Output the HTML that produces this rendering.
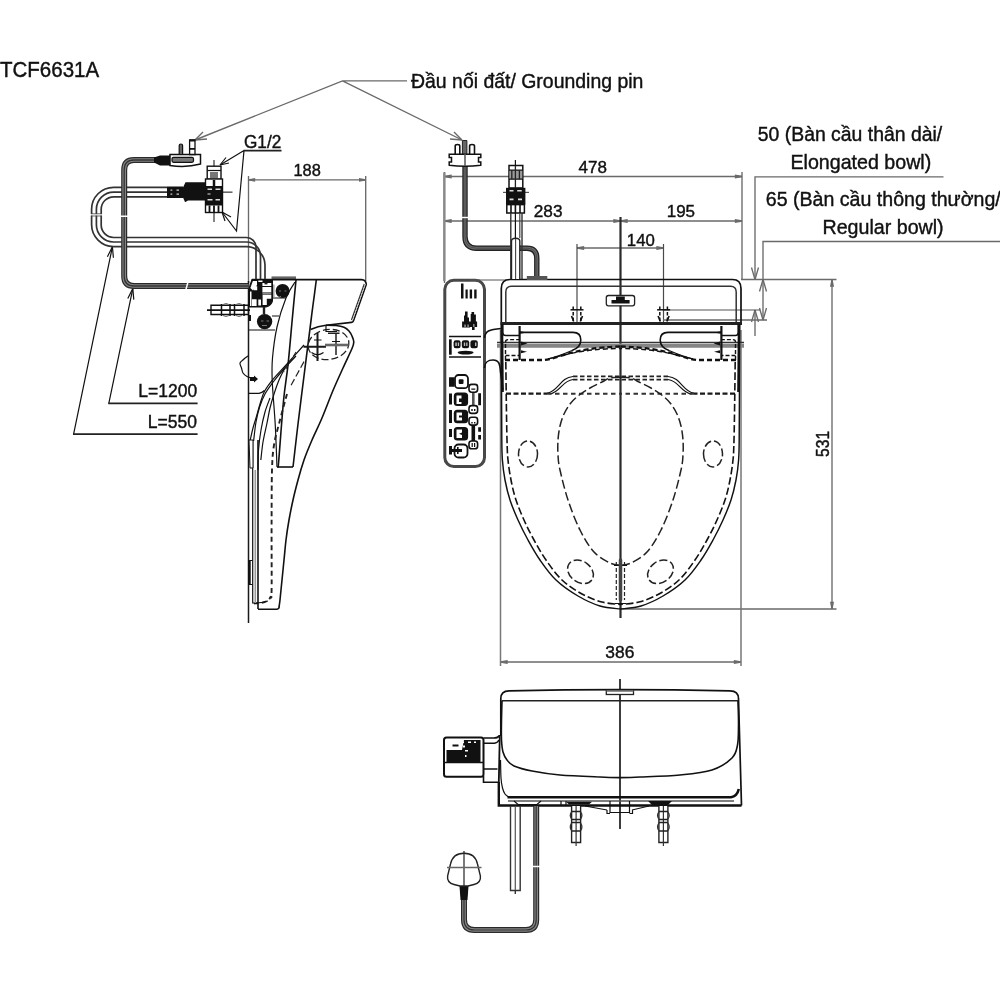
<!DOCTYPE html>
<html lang="vi">
<head>
<meta charset="utf-8">
<title>TCF6631A</title>
<style>
html,body{margin:0;padding:0;background:#fff;}
body{width:1000px;height:1000px;overflow:hidden;}
svg{display:block;filter:blur(0.4px);}
text{font-family:"Liberation Sans",sans-serif;fill:#111;}
.d{stroke:#6a6a6a;stroke-width:1.35;fill:none;}
.k{stroke:#111;stroke-width:1.2;fill:none;}
.k2{stroke:#111;stroke-width:1.6;fill:none;}
.k3{stroke:#111;stroke-width:2;fill:none;}
.g{stroke:#555;stroke-width:1;fill:none;}
.h{stroke:#222;stroke-width:1;fill:none;stroke-dasharray:4 2.5;}
.f{fill:#111;stroke:none;}
.w{fill:#fff;stroke:#111;stroke-width:1;}
</style>
</head>
<body>
<svg width="1000" height="1000" viewBox="0 0 1000 1000">
<rect x="0" y="0" width="1000" height="1000" fill="#fff"/>
<g id="dims" class="d">
<!-- 188 -->
<path d="M248.5 176V283M365.7 176V281M248.5 179.9H365.7"/>
<path d="M248.5 179.9l6 -1.1v2.2zM365.7 179.9l-6 -1.1v2.2z" fill="#6e6e6e"/>
<!-- 478 / 283 / 195 / 140 -->
<path d="M444.5 172V283M742 172V279M444.5 176.5H742M444.5 221H742M577 248H663.5"/>
<path d="M444.5 176.5l6.5 -1.2v2.4zM742 176.5l-6.5 -1.2v2.4zM444.5 221l6.5 -1.2v2.4zM742 221l-6.5 -1.2v2.4zM620.5 221l-6.5 -1.2v2.4zM620.5 221l6.5 -1.2v2.4zM577 248l6.5 -1.2v2.4zM663.5 248l-6.5 -1.2v2.4z" fill="#6e6e6e"/>
<path d="M577 244V323M663.5 244V323" stroke="#4a4a4a" stroke-width="1.2"/>
<!-- 50 / 65 -->
<path d="M943.5 176.9H755V279.5M1000 241.5H763V320M741 279.5H836.5M663 320H767M755 310V336"/>
<path d="M755 279.5l-3.5 -12M755 279.5l3.5 -12M755 310l-3.5 12M755 310l3.5 12M763 279.5l-3.5 12M763 279.5l3.5 12M763 320l-3.5 -12M763 320l3.5 -12"/>
<path d="M663.5 310H760" stroke="#555" stroke-width="1.1"/>
<!-- 531 -->
<path d="M832 279.5V609M620 609H836.5"/>
<path d="M832 279.5l-1.2 6.5h2.4zM832 609l-1.2 -6.5h2.4z" fill="#6e6e6e"/>
<!-- 386 -->
<path d="M500.5 662H741"/>
<path d="M500.5 662l6.5 -1.2v2.4zM741 662l-6.5 -1.2v2.4z" fill="#6e6e6e"/>
<path d="M500.5 330V666M741 330V666" stroke="#777" stroke-width="1.5"/>
<!-- grounding pin leader -->
<path d="M407 80.8H342.5L195 140M342.5 80.8L462 140"/>
<path d="M195 140l12 -1M195 140l8 -8M462 140l-12 -1M462 140l-8 -8"/>
</g>
<g id="leaders" class="k">
<path d="M244 150.5L220 165M244 150.5L236.5 231L222 212"/>
<path d="M220 165l9 -2M220 165l6 -7.5M222 212l3 9M222 212l9 5"/>
<path d="M108.8 403.3L132.8 288.6M73.6 434.2L112.4 246.8"/>
<path d="M243.5 150.6H281.5M108.2 403.3H197.6M73 434.2H197.6" stroke-width="1.8" stroke="#222"/>
<path d="M132.8 288.6l-5 10M132.8 288.6l1 11M112.4 246.8l-5 10M112.4 246.8l1 11"/>
</g>
<g id="centre">
<path d="M620.5 217V618" stroke="#2a2a2a" stroke-width="2.2" fill="none"/>
<path d="M620 679V829" stroke="#1a1a1a" stroke-width="1.7" fill="none"/>
</g>
<g id="remote">
<rect x="444.8" y="280.3" width="39.7" height="186.2" rx="9" ry="9" fill="none" stroke="#484848" stroke-width="3"/>
<path class="g" d="M470 280H506"/>
<path class="k2" d="M449 336.5H481M449 357H481"/>
<!-- signal bars -->
<path class="f" d="M461 283.5h2.5v15h-2.5zM465.5 289.5h2.2v9h-2.2zM469.7 289.5h2.4v9h-2.4zM474.2 289.5h2.4v9h-2.4z"/>
<!-- icon 2 -->
<path class="f" d="M465 311.5h2.6v6h1.4v4h1.7v-7.5h0.8v-2h2.6v2.5h1.8v7h1.2v5.5h-2.5v3h-2.6v-3h-1.9v0.5h-8v-6h1.9v-6h1v-4z"/>
<path d="M464.2 324.5h1.7v2.5h-1.7zM467.3 324.5h1.6v2.5h-1.6zM473 324h1.6v3h-1.6z" fill="#888"/>
<!-- row -->
<path class="f" d="M449 339.3h2.7v15.4h-2.7z"/>
<rect x="453.6" y="340.3" width="7" height="8" rx="2.2" class="f"/>
<rect x="461.8" y="340.3" width="7.4" height="8" rx="2.2" class="f"/>
<rect x="470.4" y="340.3" width="7.4" height="8" rx="2.2" class="f"/>
<path d="M455.3 342.5h1.5v3.6h-1.5zM457.8 342.5h1.3v3.6h-1.3zM463.8 342.5h1.4v3.6h-1.4zM466.2 342.5h1.3v3.6h-1.3zM475 342.5h1.4v3.6h-1.4z" fill="#bbb"/>
<ellipse cx="465.6" cy="352.6" rx="8" ry="1.9" class="f"/>
<!-- column buttons -->
<path class="f" d="M449 377.3h5.5v9.5h-5.5zM449 393.5h3v11h-3zM449 410h3v13h-3zM449 429h3v8h-3zM449 446h3v8.5h-3z"/>
<rect x="455" y="375" width="13" height="13.2" rx="3.5" fill="#fff" stroke="#111" stroke-width="1.8"/>
<rect x="458.7" y="379.3" width="4.8" height="4.8" rx="1" class="f"/>
<rect x="453.8" y="392.6" width="14.3" height="13.4" rx="3.5" class="f"/>
<path d="M456.5 395.5h5v3h-2.5v3.5h2.5v2h-5z" fill="#fff"/>
<rect x="453.8" y="409.8" width="14.3" height="13.4" rx="3.5" class="f"/>
<path d="M456.5 412.5h5.5v3h-3v2h3v3h-5.5z" fill="#fff"/>
<rect x="453.8" y="427" width="14.3" height="13.4" rx="3.5" class="f"/>
<path d="M456.5 429.5h5.5v3l-3 1.2l3 1.2v3h-5.5z" fill="#fff"/>
<rect x="454.5" y="444.5" width="13" height="13" rx="4" fill="#fff" stroke="#111" stroke-width="1.8"/>
<path class="f" d="M452 449h5v-2h1.6v2h3.4v3h-3.4v2h-1.6v-2h-5z"/>
<!-- small circles + rod -->
<path d="M473.3 391V408M473.3 424V441" stroke="#555" stroke-width="2.6" fill="none"/>
<path d="M473.3 424V441" stroke="#111" stroke-width="3.6" fill="none"/>
<rect x="469" y="384.4" width="8.6" height="7.8" rx="2.6" fill="#fff" stroke="#111" stroke-width="1.6"/>
<rect x="469" y="405.6" width="8.6" height="7.8" rx="2.6" fill="#fff" stroke="#111" stroke-width="1.6"/>
<rect x="469" y="417.3" width="8.6" height="7.8" rx="2.6" fill="#fff" stroke="#111" stroke-width="1.6"/>
<rect x="469" y="441" width="8.6" height="7.8" rx="2.6" fill="#fff" stroke="#111" stroke-width="1.6"/>
<path class="f" d="M471.3 388.5h4v1.3h-4zM471.3 409h1.4v2h-1.4zM474 409h1.4v2h-1.4zM471.3 422h1.4v1.5h-1.4zM474 422h1.4v1.5h-1.4zM471.6 443h1.2v4h-1.2zM474 443h1.2v4h-1.2z"/>
<path class="f" d="M478.2 393.3h2.8v12h-2.8zM478.2 427.3h2.8v4.5h-2.8zM478.2 435h2.8v4.5h-2.8z"/>
</g>
<g id="topbody">
<!-- gray band -->
<path d="M497 345.6H744" stroke="#858585" stroke-width="4.2" fill="none"/>
<path d="M497 342.4H744" stroke="#333" stroke-width="1.2" fill="none"/>
<!-- outer back cover -->
<path d="M501.3 324V288.5Q501.3 279.5 510 279.5H732.5Q741 279.5 741 288.5V324" stroke="#111" stroke-width="1.7" fill="none"/>
<path d="M505.8 322V292Q505.8 286.2 511.5 286.2H730.5Q736.2 286.2 736.2 292V322" stroke="#333" stroke-width="1.5" fill="none"/>
<path d="M500.5 323.5H742" stroke="#222" stroke-width="2.8" fill="none"/>
<!-- centre latch -->
<rect x="606.3" y="295.5" width="28.3" height="10.3" rx="2.2" fill="#fff" stroke="#222" stroke-width="1.3"/>
<path class="f" d="M611.5 300h4.5v-3.4h8.8v3.4h4.8v3.6h-18.1z"/>
<!-- mounting holes -->
<g id="mh">
<path d="M570.5 309.8H583.5" stroke="#111" stroke-width="1.5" fill="none"/>
<path d="M573.2 306.5V322M580.8 306.5V322" stroke="#111" stroke-width="1.5" stroke-dasharray="3.5 2" fill="none"/>
<path d="M571.5 316l2.2 5.5M582.5 316l-2.2 5.5" stroke="#111" stroke-width="1.6" fill="none"/>
</g>
<use href="#mh" x="86.6"/>
<g id="half">
<path class="k2" d="M502.7 324V332.5Q502.7 335.5 505.7 335.5H519.4"/>
<path d="M519.6 326V360" stroke="#111" stroke-width="2.2" fill="none"/>
<path d="M505.5 360V342Q505.5 339.6 508 339.6H519M505.5 355.5H519" stroke="#111" stroke-width="1.4" stroke-dasharray="4 2" fill="none"/>
<path class="k2" d="M519.6 332.4H573Q580.8 332.4 580.8 340Q580.8 347.5 572 350.5"/>
<path class="k" d="M572 350.5Q558 356.5 548 359"/>
<path class="f" d="M520 331.2L527 332.4L520 333.8ZM521 341.5L527.5 343.5L521 345.5ZM521 350.3L527 351.8L521 353.3Z"/>
<path d="M505 360H543C556 360 572 347.5 620.5 346.5" stroke="#111" stroke-width="2.3" stroke-dasharray="5 3" fill="none"/>
<path d="M548 359C566 355 580 349 620.5 348.5" stroke="#111" stroke-width="1.5" stroke-dasharray="5 3" fill="none"/>
<!-- second rear contour -->
<path d="M506 393.6H547" stroke="#1a1a1a" stroke-width="2.4" stroke-dasharray="5 2.5" fill="none"/>
<path class="k" d="M547 393.2C558 392 560 377.5 573 376.5M549.5 394C560 393 562 380.5 573 379.5"/>
<path d="M573 376.3H620.5M573 379.6H620.5" stroke="#222" stroke-width="1.7" stroke-dasharray="4.5 2.5" fill="none"/>
<path d="M547 393.8H620.5" stroke="#333" stroke-width="2" stroke-dasharray="4.5 3.5" fill="none"/>
<!-- seat outline -->
<path d="M501.3 324C501.3 333.3 501.4 360.7 501.5 380C501.6 399.3 501.7 426.7 501.8 440C501.9 453.3 501.9 453.3 502.4 460C502.9 466.7 503.7 473.3 505 480C506.3 486.7 507.8 493.3 510 500C512.2 506.7 515 513.3 518 520C521 526.7 524.3 533.3 528 540C531.7 546.7 535.3 553.3 540 560C544.7 566.7 549.7 574 556 580C562.3 586 570.7 591.7 578 596C585.3 600.3 592.9 603.8 600 606C607.1 608.2 617.1 608.5 620.5 609" stroke="#111" stroke-width="1.45" fill="none"/>
<path d="M502 324L502.6 392" stroke="#111" stroke-width="2.4" fill="none"/>
<path d="M505.8 362C505.9 368.3 506.1 387 506.3 400C506.5 413 506.7 430 507 440C507.3 450 507.3 453.3 508 460C508.7 466.7 509.7 473.3 511 480C512.3 486.7 513.8 493.3 516 500C518.2 506.7 521 513.3 524 520C527 526.7 530.3 533.3 534 540C537.7 546.7 541.3 553.3 546 560C550.7 566.7 556 574.3 562 580C568 585.7 575.3 590.3 582 594C588.7 597.7 595.6 600.2 602 602C608.4 603.8 617.4 604.1 620.5 604.5" stroke="#111" stroke-width="1.6" stroke-dasharray="7.5 3" fill="none"/>
<!-- bowl opening -->
<path d="M620.5 377.3C618.8 377.4 612.8 377.4 610 378C607.2 378.6 607.3 379.3 604 381C600.7 382.7 594.3 385.5 590 388C585.7 390.5 581.3 393.3 578 396C574.7 398.7 572.3 401 570 404C567.7 407 565.7 410.3 564 414C562.3 417.7 561 421.7 560 426C559 430.3 558.3 435.2 558 440C557.7 444.8 557.7 450 558 455C558.3 460 558.3 462.5 560 470C561.7 477.5 564.7 490 568 500C571.3 510 575.7 521.3 580 530C584.3 538.7 589 546.5 594 552C599 557.5 605.6 560.8 610 563C614.4 565.2 618.8 564.9 620.5 565.3" stroke="#222" stroke-width="1.5" stroke-dasharray="9 3.5" fill="none"/>
<ellipse cx="528" cy="454" rx="9.5" ry="13" stroke="#222" stroke-width="1.5" stroke-dasharray="8 3" fill="none"/>
<ellipse cx="580.5" cy="571.8" rx="14" ry="10.5" transform="rotate(36 580.5 571.8)" stroke="#222" stroke-width="1.5" stroke-dasharray="8 3" fill="none"/>
</g>
<use href="#half" transform="translate(1241 0) scale(-1 1)"/>
<!-- arm to remote -->
<path class="k2" d="M484.5 338C485 331 489 329.5 501.3 328.5M484.5 368C485 361 488.5 360 493 360C499 360 500 364 500.5 372L503 390"/>
</g>
<g id="slot">
<path d="M616.3 562V600M624.5 562V600" stroke="#222" stroke-width="1.2" stroke-dasharray="4 2" fill="none"/>
<path class="k" d="M614 565.5H627M615 603.5H626"/>
<path d="M620.5 560V600" stroke="#444" stroke-width="3.5" fill="none" stroke-linecap="round"/>
</g>
<g id="topconn">
<!-- thick left extension line -->
<path d="M444.3 172.5V281" stroke="#8a8a8a" stroke-width="2.4" fill="none"/>
<!-- cord -->
<path d="M465 165V236.5Q465 248.2 476.5 248.2H527Q536.8 248.2 536.8 258.5V276" stroke="#222" stroke-width="5.4" fill="none"/>
<path d="M465 165V236.5Q465 248.2 476.5 248.2H527Q536.8 248.2 536.8 258.5V276" stroke="#6c6c6c" stroke-width="2.8" fill="none"/>
<path d="M465 165V236.5Q465 248.2 476.5 248.2H527Q536.8 248.2 536.8 258.5V276" stroke="#444" stroke-width="0.8" fill="none"/>
<path d="M461 217.5h8" stroke="#fff" stroke-width="1.4"/>
<rect x="526.8" y="276" width="20.5" height="4" fill="#555"/>
<!-- plug -->
<path d="M455.2 154.5V146Q455.2 144.5 457.5 144.5Q459.8 144.5 459.8 146V154.5M469.6 154.5V146Q469.6 144.5 472 144.5Q474.5 144.5 474.5 146V154.5" class="k2" fill="#fff"/>
<path d="M462.4 140.5h4.5v14h-4.5z" fill="#666" stroke="#222" stroke-width="1"/>
<path d="M449.2 154.3H480.8V157.5H478.5V162H480.8V165.2Q465 167.2 449.2 165.2V162H451.5V157.5H449.2Z" fill="#fff" stroke="#111" stroke-width="1.5"/>
<path d="M465 154V166" stroke="#555" stroke-width="1.5"/>
<!-- valve -->
<path class="k" d="M515.4 160V280"/>
<path d="M503 192.4H529" stroke="#555" stroke-width="1.2"/>
<rect x="509" y="165.5" width="13.8" height="22.5" fill="#fff" stroke="#111" stroke-width="1.5"/>
<path d="M509.5 170.2h12.8v8.8h-12.8z" fill="#9a9a9a"/>
<path d="M509 170.2H522.8M509 179.2H522.8" class="k"/>
<path d="M511.8 170.2V179.2M515.4 166V188M519.4 170.2V179.2" stroke="#222" stroke-width="1.3"/>
<rect x="506" y="187.8" width="19.4" height="16.8" class="f"/>
<path d="M509.5 190h4v1.6h-4zM517.2 190h4.5v1.6h-4.5zM509.5 198.5h4v1.8h-4zM518 198.5h4v1.8h-4z" fill="#ddd"/>
<rect x="506.8" y="204.6" width="17.6" height="8.4" fill="#fff" stroke="#111" stroke-width="1.5"/>
<path d="M511 204.6V213M515.4 204.6V213M520 204.6V213" class="k2"/>
<!-- pipes -->
<path d="M510.8 213V279M522 213V279" stroke="#333" stroke-width="1.4" fill="none"/>
<path d="M519.8 213V238" stroke="#444" stroke-width="1.2" fill="none"/>
<path d="M511.5 279V241Q511.5 238.2 515.6 238.2Q519.8 238.2 519.8 241V279" stroke="#222" stroke-width="1.4" fill="#fff"/>
<path d="M515.6 239V279" stroke="#444" stroke-width="1.1"/>
</g>
<g id="sidebody">
<!-- wall line -->
<path d="M248.5 281V623" stroke="#1a1a1a" stroke-width="1.5" fill="none"/>
<!-- lid top box -->
<path d="M271.5 278H296" stroke="#666" stroke-width="3.2" fill="none"/>
<path class="k2" d="M252 279.6H361.5Q366 279.8 366.3 284.5L353.5 320.8Q353 322.3 351.5 322.4L326 325.2"/>
<path d="M364.3 284L351.5 320" stroke="#333" stroke-width="1.3" fill="none"/>
<path d="M365.3 284.3L352.5 320.5" stroke="#fff" stroke-width="0.7" stroke-dasharray="1.5 1.5" fill="none"/>
<path class="k2" d="M316.3 280C315.8 284.2 314.1 296.9 313 305C311.9 313.1 311.5 316.8 310 328.6C308.5 340.4 306 360.1 304 376C302 391.9 299.8 408.8 298 424C296.2 439.2 293.8 459.8 293 467"/>
<path class="k2" d="M277 467H293"/>
<path class="k2" d="M296 280C295.3 287 293.3 307.8 292 322C290.7 336.2 289.4 352 288 365C286.6 378 285.1 384.2 283.6 400C282.1 415.8 279.7 448.8 278.8 460C277.9 471.2 278.1 465.8 278 467"/>
<path class="k" d="M295 282C293.5 284.7 289 290.5 286 298C283 305.5 279.2 317 277 327C274.8 337 273.3 349 272.5 358C271.7 367 271.8 369.8 272.2 380.8C272.6 391.8 274.4 409.6 275.2 424C276 438.4 276.7 459.8 277 467"/>
<!-- mechanism -->
<path d="M249 288.6L252 279.6H272.4V301Q271.5 305.5 266 307H249Z" fill="#111" stroke="#111" stroke-width="1.2"/>
<path d="M250.3 288L252.9 281H257V285L253 290.5Z" fill="#fff"/>
<path d="M258.3 280.4h4.2v1.7h-4.2zM262.4 283h8.9v2.9h-8.9zM262.4 287h8.9v5.2h-8.9zM262.6 294.8h8.7v4h-8.7zM262.6 298.8h4.2v6.2h-4.2zM253.8 286.2h3.4v4h-3.4zM252 299.2h4.6v6.8h-4.6zM258.3 299.4h2.7v6h-2.7z" fill="#fff"/>
<path d="M262.4 292.2h8.9v2.3h-8.9z" fill="#8a8a8a"/>
<path d="M264.5 283h3v1.4h-3z" fill="#222"/>
<path d="M250 291.5h1.5v14.5h-1.5z" fill="#fff"/>
<path d="M273.8 284.5V297" stroke="#aaa" stroke-width="1.6" fill="none"/>
<path class="k" d="M272.4 298H286M249 330H275M272 316H279"/>
<circle cx="282.6" cy="291" r="7" class="f"/>
<circle cx="264.6" cy="321.6" r="7.7" class="f"/>
<path d="M279 291h2M284.5 291h2M279.5 296.5h1.5M261 321h2.5M266.5 321h2.5M262 325.5h5" stroke="#777" stroke-width="1"/>
<path d="M264 307V314" stroke="#222" stroke-width="2.4" fill="none"/>
<path d="M249.8 315V321" stroke="#111" stroke-width="2.4" fill="none"/>
<!-- inlet nipple -->
<path d="M207 310.2H250" stroke="#111" stroke-width="1.7"/>
<path d="M211 305.2H248.5V314.5H211Z" fill="none" stroke="#111" stroke-width="1.4"/>
<path d="M221.5 304V316M230 304V316M234.5 304V316M244 304V316" stroke="#111" stroke-width="1.5"/>
<path d="M223 304.5Q226 302.5 229 304.5M236 304.5Q239 302.5 242 304.5M223 315.5Q226 317.5 229 315.5M236 315.5Q239 317.5 242 315.5" stroke="#666" stroke-width="1" fill="none"/>
<!-- hook + arrow -->
<path class="k" d="M248.4 355.6C247.7 356.2 245.4 357.8 244 359C242.6 360.2 240.4 361.5 240 363C239.6 364.5 241 366.3 241.5 368C242 369.7 242.1 371.6 243 373C243.9 374.4 245.5 375.7 247 376.5C248.5 377.3 251.2 377.8 252 378"/>
<path class="f" d="M250 377h4v-1.5l4 3.5l-4 3.5v-1.5h-4z"/>
<!-- lower curves -->
<path class="k" d="M248.4 393.4H259Q262 393 264.4 390.5"/>
<path class="k" d="M250 441C250.5 438.8 252 431.8 253 428C254 424.2 254.8 422 256 418C257.2 414 258.6 408.4 260 404C261.4 399.6 262.3 395.7 264.4 391.6C266.5 387.5 269 384.2 272.8 379.6C276.6 375 281.8 369.8 287 364C292.2 358.2 301.2 348.2 304 345"/>
<path class="k" d="M253.6 441C254 437.8 255 427.7 256 422C257 416.3 258.1 411.7 259.6 407C261.1 402.3 262.8 398.1 265 394C267.2 389.9 269.8 386.5 272.8 382.5C275.8 378.5 279.1 374.4 283 370C286.9 365.6 293.8 358.3 296 356"/>
<path class="k" d="M260.8 460C261.2 457 262 448 263 442C264 436 265.6 429.7 266.8 424C268 418.3 268.8 413 270 408C271.2 403 272.5 398.7 274 394C275.5 389.3 277.2 384.3 279 380C280.8 375.7 284 370 285 368"/>
<path class="k" d="M258 470C258.1 466.7 258 456.7 258.5 450C259 443.3 259.9 436.3 261 430C262.1 423.7 263.5 417.3 265 412C266.5 406.7 269.2 400.3 270 398"/>
<path d="M304 361.6L289.6 388" stroke="#222" stroke-width="1.2" stroke-dasharray="7 3" fill="none"/>
<path d="M296 352C295 353.7 292 358.7 290 362C288 365.3 285 370.3 284 372" stroke="#222" stroke-width="1.1" stroke-dasharray="5 2.5" fill="none"/>
<path d="M287 394C285.8 398.3 282.2 411.5 280 420C277.8 428.5 275.3 436.7 274 445C272.7 453.3 272.4 457.5 272 470C271.6 482.5 271.7 500 271.6 520C271.5 540 271.8 577.2 271.6 590C271.4 602.8 271.3 595.2 270.5 597C269.7 598.8 268.6 600 267 601C265.4 602 263.2 602.6 261 603C258.8 603.4 255.2 603.4 254 603.5" stroke="#222" stroke-width="1.9" stroke-dasharray="5 3.5" fill="none"/>
<!-- seat -->
<path class="k2" d="M326 325.2C327.7 325.2 333 325.2 336 325.5C339 325.8 341.8 326.3 344 327.2C346.2 328.1 347.7 329.5 349 331C350.3 332.5 351.2 334.2 352 336C352.8 337.8 353.8 339.9 353.8 342C353.8 344.1 353.8 344.2 352 348.5C350.2 352.8 346.1 361.1 343 368C339.9 374.9 336.7 381.7 333.2 390C329.7 398.3 325.5 409.7 322 418C318.5 426.3 315 433 312 440C309 447 306.3 453.3 304 460C301.7 466.7 299.8 473.3 298 480C296.2 486.7 294.5 493.3 293 500C291.5 506.7 290.2 513.3 289 520C287.8 526.7 286.8 533.3 286 540C285.2 546.7 284.7 553.3 284 560C283.3 566.7 282.7 573.3 282 580C281.3 586.7 280.5 595.5 280 600C279.5 604.5 279.2 605.8 279 607"/>
<path class="k2" d="M258 609.2H277Q279 609 279.3 606.5"/>
<path class="k2" d="M258 440V609"/>
<path class="k" d="M252.7 440V603Q260 603.5 268 601"/>
<path d="M255.3 470V603" stroke="#999" stroke-width="1.6" fill="none"/>
<path d="M249 440h4v28h-3z" fill="#fff" stroke="#111" stroke-width="1"/>
<path d="M249.4 560.5V584.5" stroke="#111" stroke-width="2.6" fill="none"/>
<path class="k" d="M249 560.5H252.5M249 584.5H252.5"/>
<!-- hinge -->
<ellipse cx="328.5" cy="344.5" rx="20.5" ry="15" stroke="#222" stroke-width="1.3" stroke-dasharray="7 3" fill="none" transform="rotate(-8 328.5 344.5)"/>
<path class="k" d="M326 325.2V331.5H337"/>
<path class="k2" d="M310.5 329.5Q318 326 326 325.2"/>
<path d="M317.5 333V361M303.5 346.8H326" stroke="#1a1a1a" stroke-width="2" fill="none"/>
<path d="M336 333V355M328 333.3H339.5" stroke="#222" stroke-width="1.5" fill="none"/>
<path d="M325 345H348.5" stroke="#666" stroke-width="2.6" fill="none"/>
<path class="k" d="M314 340H321.5M311.5 352.5Q317.5 357 323.5 352.5M332 341.5H340"/>
</g>
<g id="sideconn">
<!-- hose (3 lines) -->
<g stroke="#333" stroke-width="1.7" fill="none">
<path d="M167 187.3H113.6A22 22 0 0 0 91.6 209.3V224.6A22 22 0 0 0 113.6 246.6H246.5A18.5 18.5 0 0 1 265 265.1V279"/>
<path d="M167 192.2H113.6A17.2 17.2 0 0 0 96.4 209.3V224.6A17.2 17.2 0 0 0 113.6 242H246.5A14 14 0 0 1 260.5 256V279"/>
<path d="M167 196.8H113.6A12.5 12.5 0 0 0 101.2 209.3V224.6A12.5 12.5 0 0 0 113.6 237.5H246.5A9.5 9.5 0 0 1 256 247V279"/>
</g>
<path d="M90 214.8H103" stroke="#fff" stroke-width="1.5"/>
<path d="M91 213.8H102M91 216H102" stroke="#444" stroke-width="0.8"/>
<!-- cord -->
<path id="scord" d="M156 160H134Q124.2 160 124.2 170V276Q124.2 286 134 286H248.5" stroke="#2a2a2a" stroke-width="6" fill="none"/>
<path d="M156 160H134Q124.2 160 124.2 170V276Q124.2 286 134 286H248.5" stroke="#858585" stroke-width="3.6" fill="none"/>
<path d="M156 160H134Q124.2 160 124.2 170V276Q124.2 286 134 286H248.5" stroke="#333" stroke-width="1.3" fill="none"/>
<path d="M120 216.2H129M185.8 290L188 282" stroke="#fff" stroke-width="1.5"/>
<!-- plug (side) -->
<path class="f" d="M154 157.5L160 155.5H172V165.5H160L154 162.5Z"/>
<path d="M170 154.6H200.5V164Q186 168 170 165.5Z" fill="#fff" stroke="#111" stroke-width="1.5"/>
<rect x="172" y="157.3" width="21.5" height="5" rx="1.5" fill="#777" stroke="#111" stroke-width="1.2"/>
<path d="M179.2 154.5V145.5Q179.2 144 180.9 144Q182.6 144 182.6 145.5V154.5Z" fill="#666" stroke="#111" stroke-width="1.2"/>
<path d="M189.6 154.5V139.8H195V154.5Z" fill="#fff" stroke="#111" stroke-width="1.3"/>
<path d="M189.6 140.5H195M189.6 148.8H195" stroke="#111" stroke-width="1.8"/>
<!-- valve (side) -->
<path d="M214 160V222" stroke="#666" stroke-width="1.6"/>
<path d="M222 192.2H232.5" stroke="#666" stroke-width="1.6"/>
<rect x="207.2" y="166.2" width="13.8" height="13" fill="#fff" stroke="#111" stroke-width="1.4"/>
<path d="M207.2 170.5H221" class="k"/>
<path d="M210 172H218V178H210Z" fill="#777"/>
<rect x="205.5" y="179" width="17" height="33.5" fill="#fff" stroke="#111" stroke-width="1.4"/>
<rect x="205.5" y="186" width="17" height="19.5" class="f"/>
<path d="M214 180V186" stroke="#111" stroke-width="2.5"/>
<path d="M207.5 188.5h4.5v1.4h-4.5zM215.5 188.5h5v1.4h-5zM207.5 193.5h3v1h-3zM207.5 199h5v1.6h-5zM215.5 199h4.5v1.6h-4.5z" fill="#ddd"/>
<path d="M209.5 205.5V212.5M214 205.5V212.5M218.5 205.5V212.5" stroke="#111" stroke-width="1.8"/>
<path class="f" d="M183 187.5L185.5 182.2H205.5V200.5H188L185.5 202H185L183 197.5Z"/>
<path class="f" d="M167 186.5H183V198H167Z"/>
<path d="M170.5 189.5h1.8v1.2h-1.8zM176.5 189.5h2.5v1.2h-2.5zM170.5 193.5h1.8v1.2h-1.8zM176.5 193.5h2.5v1.2h-2.5z" fill="#ccc"/>
</g>
<g id="front">
<!-- lid -->
<path d="M500.8 736V698.5Q500.8 691 509 690.8Q620 688.4 730 690.8Q738.5 691 738.5 698.5L741.5 805.5" stroke="#111" stroke-width="1.7" fill="none"/>
<path d="M501.5 700.8H738.5" stroke="#222" stroke-width="1.5" fill="none"/>
<rect x="606.3" y="690.3" width="27.2" height="4.2" fill="#fff" stroke="#222" stroke-width="1.3"/>
<path d="M606.5 691H633.5" stroke="#777" stroke-width="1.6"/>
<path class="k2" d="M502 701C501.9 704.2 501.6 713.5 501.5 720C501.4 726.5 501.2 734.7 501.5 740C501.8 745.3 502.1 748.7 503 752C503.9 755.3 505.2 757.7 507 760C508.8 762.3 509.8 764.2 514 766C518.2 767.8 524.3 769.5 532 771C539.7 772.5 548.7 774 560 775C571.3 776 590 776.6 600 777C610 777.4 613.3 777.6 620 777.6C626.7 777.6 630 777.4 640 777C650 776.6 668 776.2 680 775C692 773.8 703.3 772.8 712 770C720.7 767.2 727.8 762.2 732 758C736.2 753.8 736.4 750.5 737.5 745C738.6 739.5 738.4 732.3 738.5 725C738.6 717.7 738.1 705 738 701"/>
<!-- left edge + base -->
<path d="M499.8 735L498.8 782" stroke="#111" stroke-width="1.8" fill="none"/>
<path d="M498.8 782V805.5H741.5" stroke="#111" stroke-width="2.4" fill="none" stroke-linejoin="miter"/>
<path class="k" d="M500.5 760C500.6 763 500.7 773.3 501 778C501.3 782.7 501.8 785.3 502.5 788C503.2 790.7 504 792.5 505 794C506 795.5 507.9 796.5 508.5 797"/>
<path d="M507.5 797.2H731Q737 796.5 738.8 789" stroke="#111" stroke-width="2.6" fill="none"/>
<path d="M508 801H734" stroke="#555" stroke-width="1.4" fill="none"/>
<path class="k" d="M514 801L518 804.5H537L541 801M561 801V805M566 801V805"/>
<!-- centre bracket -->
<path class="k" d="M585 806L607 810M632 810L649 806M610 801V812.5H629.5V801M607 810V813.5H610M629.5 813.5H632.5V810"/>
<path class="f" d="M648 801H672L668 805H652Z"/>
<path class="f" d="M566 801.8H592L589 804.6H569Z"/>
<!-- nipples -->
<g id="nip">
<path d="M571.6 806V842.5H580.6V806" fill="#fff" stroke="#222" stroke-width="1.4"/>
<path d="M576.1 806V846" stroke="#333" stroke-width="1.2"/>
<path d="M571.6 811.5H580.6M571.6 819.5H580.6M571.6 822.5H580.6M571.6 831H580.6" stroke="#222" stroke-width="1.3"/>
<path d="M571.6 812Q569 815.5 571.6 819M580.6 812Q583.2 815.5 580.6 819M571.6 823Q569 827 571.6 830.5M580.6 823Q583.2 827 580.6 830.5" stroke="#333" stroke-width="1.3" fill="none"/>
</g>
<use href="#nip" x="87.3"/>
<!-- water pipe -->
<path d="M510.5 806V890.5H515.3V894V890.5H520.2V806" stroke="#333" stroke-width="1.4" fill="none"/>
<path d="M515.3 806V890" stroke="#555" stroke-width="1.2" fill="none"/>
<!-- cord -->
<path d="M536.2 806V919.5Q536.2 930 526 930H474.5Q464 930 464 919.5V899" stroke="#2a2a2a" stroke-width="6" fill="none"/>
<path d="M536.2 806V919.5Q536.2 930 526 930H474.5Q464 930 464 919.5V899" stroke="#858585" stroke-width="3.6" fill="none"/>
<path d="M536.2 806V919.5Q536.2 930 526 930H474.5Q464 930 464 919.5V899" stroke="#333" stroke-width="1.2" fill="none"/>
<path d="M532 866.5H540" stroke="#fff" stroke-width="1.5"/>
<!-- plug front -->
<path class="f" d="M459.5 886H468.5L467.5 900H460.5Z"/>
<path d="M464 853.2C472 853.2 476 857 477.5 864L480.4 876C481 881 478 883.5 474 884.5L468 886H460L454 884.5C450 883.5 447 881 447.6 876L450.5 864C452 857 456 853.2 464 853.2Z" fill="#fff" stroke="#222" stroke-width="1.4"/>
<path d="M464 851V886" stroke="#222" stroke-width="1.2"/>
<path d="M447 867.5H481.5" stroke="#666" stroke-width="1.5"/>
<!-- remote side -->
<rect x="444" y="737.5" width="39.5" height="39.3" rx="2.5" fill="#fff" stroke="#111" stroke-width="2"/>
<path class="f" d="M446.5 750H462L464 740H480.5V762.5H446.5Z"/>
<path class="f" d="M452.5 744.5h6v2h-6z"/>
<path d="M462 741.5h2v1.5h-2zM468 741.5h3v1.5h-3zM474 741.5h2v1.5h-2zM463 745.5h2v2h-2zM465 750h3v1.5h-3zM465 755h1.5v2h-1.5z" fill="#fff"/>
<path class="k2" d="M445 762.5H483"/>
<path class="k2" d="M483.5 738H494Q498 738 499.5 735.5M484 743.2H494.5Q497.5 743 499 740M484 769H497.5M483.5 776V782.2H498"/>
</g>
<g id="txt" stroke="#111" stroke-width="0.4">
<text id="t1" transform="translate(0 76.6) scale(1 1.08)" font-size="20.5">TCF6631A</text>
<text id="t2" transform="translate(411 88.2) scale(1 1.08)" font-size="19.45">Đầu nối đất/ Grounding pin</text>
<text id="t3" transform="translate(244 148) scale(1 1.02)" font-size="17.2">G1/2</text>
<text id="t4" transform="translate(293.4 176) scale(1 1)" font-size="16.4">188</text>
<text id="t5" transform="translate(578.6 173) scale(1 1)" font-size="17">478</text>
<text id="t6" transform="translate(533.8 216.8) scale(1 1)" font-size="17.2">283</text>
<text id="t7" transform="translate(666.7 216.8) scale(1 1)" font-size="17">195</text>
<text id="t8" transform="translate(626.8 246) scale(1 1)" font-size="16.8">140</text>
<text id="t9" transform="translate(757.8 141.4) scale(1 1.08)" font-size="19.4">50 (Bàn cầu thân dài/</text>
<text id="t10" transform="translate(790.5 168.7) scale(1 1.05)" font-size="19.65">Elongated bowl)</text>
<text id="t11" transform="translate(765.8 205.6) scale(1 1.03)" font-size="19.6">65 (Bàn cầu thông thường/</text>
<text id="t12" transform="translate(822.5 233.9) scale(1 1.01)" font-size="19.65">Regular bowl)</text>
<text id="t13" transform="translate(829 456.9) rotate(-90) scale(1 1.12)" font-size="15.6">531</text>
<text id="t14" transform="translate(605.3 658.2) scale(1 1)" font-size="17.4">386</text>
<text id="t15" transform="translate(138.3 397.2) scale(1 1.05)" font-size="17.5">L=1200</text>
<text id="t16" transform="translate(147.8 428.2) scale(1 1.05)" font-size="17.5">L=550</text>
</g>

</svg>
</body>
</html>
